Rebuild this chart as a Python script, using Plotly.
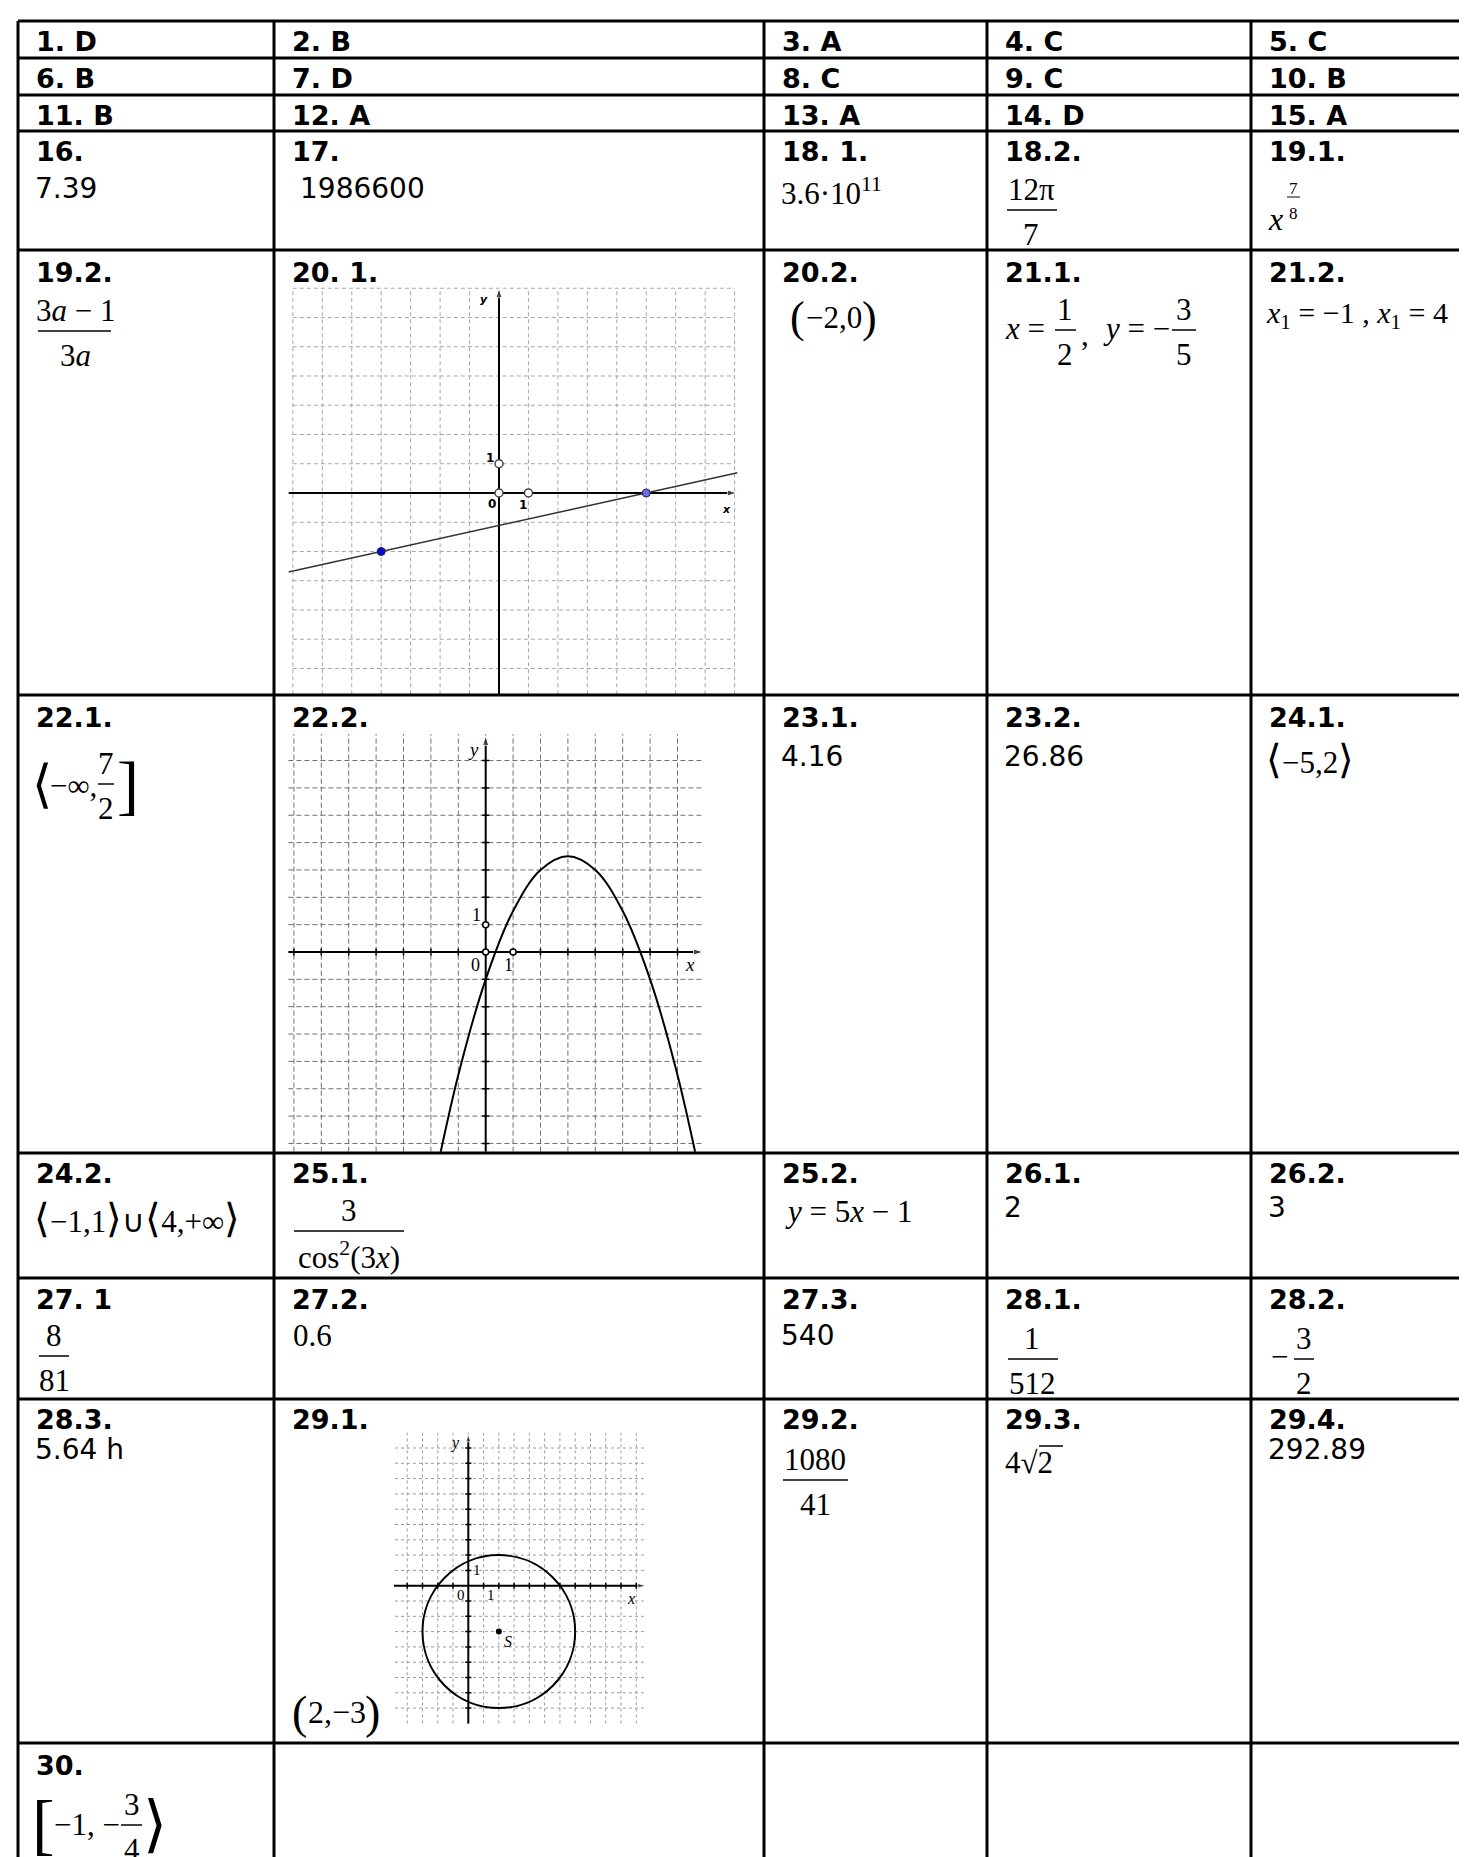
import plotly.graph_objects as go

W, H = 1467, 1857
SANS = "DejaVu Sans"
SERIF = "Liberation Serif"

# ---------------- contents of the answer sheet ----------------
labels = [
    ["1. D", "2. B", "3. A", "4. C", "5. C"],
    ["6. B", "7. D", "8. C", "9. C", "10. B"],
    ["11. B", "12. A", "13. A", "14. D", "15. A"],
    ["16.", "17.", "18. 1.", "18.2.", "19.1."],
    ["19.2.", "20. 1.", "20.2.", "21.1.", "21.2."],
    ["22.1.", "22.2.", "23.1.", "23.2.", "24.1."],
    ["24.2.", "25.1.", "25.2.", "26.1.", "26.2."],
    ["27. 1", "27.2.", "27.3.", "28.1.", "28.2."],
    ["28.3.", "29.1.", "29.2.", "29.3.", "29.4."],
    ["30.", "", "", "", ""],
]

# plain numeric answers (row, column, text)
plain_rows = [3, 3, 5, 5, 6, 6, 7, 8, 8]
plain_cols = [0, 1, 2, 3, 3, 4, 2, 0, 4]
plain_text = ["7.39", "1986600", "4.16", "26.86", "2", "3", "540", "5.64 h", "292.89"]

# 20.1 : line through the two marked points
line_x = [-7.15, -4, 5, 8.1]
line_y = [-2.7, -2, 0, 0.69]
marked_x = [-4, 5]
marked_y = [-2, 0]
marked_col = ["#0a0ac8", "#6e6ee6"]
unit_x = [0, 1, 0]
unit_y = [0, 0, 1]

# 22.2 : parabola
parab_x = [-2, -1, 0, 1, 2, 3, 4, 5, 6, 7, 8]
parab_y = [-9, -4.5, -1, 1.5, 3, 3.5, 3, 1.5, -1, -4.5, -9]

# 29.1 : circle with centre S
centre_x, centre_y = 2, -3
radius = 5

# ---------------- layout (pixels) ----------------
col_edges = [10, 266, 756, 979, 1243]
row_edges = [13, 50, 87, 123, 242, 687, 1145, 1270, 1391, 1735]
label_base = [43, 80, 117, 153, 274, 719, 1175, 1301, 1421, 1767]
plain_mid = {3: 180, 5: 748, 6: 1199, 7: 1327, 8: 1441}

# graph panels: origin pixel, pixels per unit, visible ranges
graphs = {
    "2": dict(ox=491, oy=485, ux=29.45, uy=29.25, xr=[-7.15, 8.1], yr=[-6.88, 7.05]),
    "3": dict(ox=477.7, oy=944, ux=27.4, uy=27.35, xr=[-7.25, 7.95], yr=[-7.3, 8.0]),
    "4": dict(ox=460.3, oy=1577.7, ux=15.27, uy=15.3, xr=[-4.9, 11.7], yr=[-9.05, 10.05]),
}

fig = go.Figure()
fig.add_trace(go.Scatter(x=[0], y=[0], mode="markers", marker=dict(opacity=0), hoverinfo="skip"))


def put(x, y, s, size, family=SERIF, xanchor="left", ref="", color="black"):
    fig.add_annotation(x=x, y=y, text=s, showarrow=False, xanchor=xanchor, yanchor="middle",
                       xref="x" + ref, yref="y" + ref,
                       font=dict(family=family, size=size, color=color))


def bar(x0, x1, y, w=1.5):
    fig.add_shape(type="line", x0=x0, x1=x1, y0=y, y1=y, xref="x", yref="y",
                  line=dict(color="black", width=w))


def frac(cx, ybar, x0, x1, num, den, size=31):
    put(cx, ybar - 21, num, size, xanchor="center")
    bar(x0, x1, ybar)
    put(cx, ybar + 24, den, size, xanchor="center")


# table frame
for y in row_edges:
    fig.add_shape(type="line", x0=col_edges[0], x1=W + 5, y0=y, y1=y, xref="x", yref="y",
                  line=dict(color="black", width=3))
for x in col_edges:
    fig.add_shape(type="line", x0=x, x1=x, y0=row_edges[0], y1=H + 5, xref="x", yref="y",
                  line=dict(color="black", width=3))

# cell labels
for r, row in enumerate(labels):
    for c, lab in enumerate(row):
        if lab:
            put(col_edges[c] + 16, label_base[r] - 9.5, "<b>" + lab + "</b>", 27, SANS)

# plain answers
for r, c, s in zip(plain_rows, plain_cols, plain_text):
    x = col_edges[c] + 15 + (9 if s == "1986600" else 0)
    put(x, plain_mid[r], s, 28, SANS)

BIG = "<span style='font-size:40px'>%s</span>"

# ---- row 16-19.1
put(771, 183, "3.6·10<sup>11</sup>", 31)
frac(1023, 202, 999, 1049, "12π", "7")
put(1258, 211, "<i>x</i>", 32)
put(1285, 180, "7", 17, xanchor="center")
bar(1279, 1292, 189, 1)
put(1285, 205, "8", 17, xanchor="center")

# ---- row 19.2-21.2
frac(67, 323, 30, 103, "3<i>a</i> − 1", "3<i>a</i>")
put(780, 309, "(", 44)
put(796, 309, "−2,0", 31)
put(852, 309, ")", 44)
put(995, 320, "<i>x</i> =", 31)
frac(1057, 322, 1047, 1068, "1", "2")
put(1071, 326, ",", 31)
put(1093, 320, "<i>y</i> = −", 31)
frac(1176, 322, 1164, 1188, "3", "5")
put(1256, 307, "<i>x</i><sub>1</sub> = −1 , <i>x</i><sub>1</sub> = 4", 30)

# ---- row 22.1-24.1
put(22, 776, "⟨", 52)
put(40, 777, "−∞,", 31)
frac(98, 776, 90, 106, "7", "2")
put(107, 776, "]", 66)
put(1256, 751, BIG % "⟨" + "−5,2" + BIG % "⟩", 31)

# ---- row 24.2-26.2
put(24, 1210, BIG % "⟨" + "−1,1" + BIG % "⟩" + "∪" + BIG % "⟨" + "4,+∞" + BIG % "⟩", 31)
frac(341, 1223, 286, 396, "3", "cos<sup>2</sup>(3<i>x</i>)")
put(775, 1203, "<i>y</i> = 5<i>x</i> − 1", 31)

# ---- row 27.1-28.2
frac(46, 1348, 31, 61, "8", "81")
put(283, 1327, "0.6", 31)
frac(1024, 1351, 1000, 1050, "1", "512")
put(1261, 1348, "−", 31)
frac(1296, 1351, 1286, 1306, "3", "2")

# ---- row 28.3-29.4
put(282, 1704, "(", 46)
put(298, 1704, "2,−3", 32)
put(355, 1704, ")", 46)
frac(807, 1472, 775, 840, "1080", "41")
put(995, 1454, "4√2", 31)
bar(1031, 1055, 1438, 1.5)

# ---- row 30
put(22, 1816, "[", 68)
put(44, 1816, "−1, −", 31)
frac(124, 1817, 113, 134, "3", "4")
put(133, 1816, "⟩", 62)


# ---------------- graph panels ----------------
def grid(ref, xs, ys, vspan, hspan, color, dash):
    gx, gy = [], []
    for v in xs:
        gx += [v, v, None]
        gy += [vspan[0], vspan[1], None]
    for h in ys:
        gx += [hspan[0], hspan[1], None]
        gy += [h, h, None]
    fig.add_trace(go.Scatter(x=gx, y=gy, mode="lines", hoverinfo="skip",
                             line=dict(color=color, width=1, dash=dash),
                             xaxis="x" + ref, yaxis="y" + ref))


def ticks(ref, xs, ys, half):
    gx, gy = [], []
    for v in xs:
        if v:
            gx += [v, v, None]
            gy += [-half, half, None]
    for h in ys:
        if h:
            gx += [-half, half, None]
            gy += [h, h, None]
    fig.add_trace(go.Scatter(x=gx, y=gy, mode="lines", hoverinfo="skip",
                             line=dict(color="black", width=1.5),
                             xaxis="x" + ref, yaxis="y" + ref))


def axis_arrow(ref, x0, y0, x1, y1, head=10):
    fig.add_trace(go.Scatter(x=[x0, x1], y=[y0, y1], mode="lines+markers", hoverinfo="skip",
                             line=dict(color="black", width=2),
                             marker=dict(symbol="arrow", size=[0, head], angleref="previous",
                                         color="black"),
                             xaxis="x" + ref, yaxis="y" + ref))


# 20.1
grid("2", range(-7, 9), range(-6, 8), [-6.88, 7], [-7, 8], "#a6a6a6", "4px,3px")
axis_arrow("2", -7.15, 0, 8.08, 0)
axis_arrow("2", 0, -6.88, 0, 7.0)
fig.add_trace(go.Scatter(x=line_x, y=line_y, mode="lines", line=dict(color="#333333", width=1.5),
                         xaxis="x2", yaxis="y2", hoverinfo="skip"))
fig.add_trace(go.Scatter(x=unit_x, y=unit_y, mode="markers", xaxis="x2", yaxis="y2",
                         marker=dict(size=8, color="white", line=dict(color="#444444", width=1.5))))
fig.add_trace(go.Scatter(x=marked_x, y=marked_y, mode="markers", xaxis="x2", yaxis="y2",
                         marker=dict(size=8, color=marked_col, line=dict(color="#202060", width=1))))
put(-0.24, -0.36, "<b>0</b>", 12, SANS, "center", "2")
put(0.81, -0.4, "<b>1</b>", 12, SANS, "center", "2")
put(-0.29, 1.2, "<b>1</b>", 12, SANS, "center", "2")
put(-0.5, 6.6, "<b><i>y</i></b>", 11, SANS, "center", "2")
put(7.74, -0.55, "<b><i>x</i></b>", 11, SANS, "center", "2")

# 22.2
grid("3", range(-7, 8), range(-7, 8), [-7.3, 7.97], [-7.2, 7.9], "#6e6e6e", "5px,3px")
ticks("3", range(-7, 8), range(-7, 8), 0.13)
axis_arrow("3", -7.2, 0, 7.93, 0)
axis_arrow("3", 0, -7.3, 0, 7.9)
fig.add_trace(go.Scatter(x=parab_x, y=parab_y, mode="lines", line=dict(color="black", width=2,
                         shape="spline", smoothing=1.0), xaxis="x3", yaxis="y3", hoverinfo="skip"))
fig.add_trace(go.Scatter(x=unit_x, y=unit_y, mode="markers", xaxis="x3", yaxis="y3",
                         marker=dict(size=6, color="white", line=dict(color="black", width=1.5))))
put(-0.39, -0.46, "0", 18, SERIF, "center", "3")
put(0.83, -0.46, "1", 18, SERIF, "center", "3")
put(-0.34, 1.37, "1", 18, SERIF, "center", "3")
put(-0.45, 7.4, "<i>y</i>", 19, SERIF, "center", "3")
put(7.44, -0.45, "<i>x</i>", 19, SERIF, "center", "3")

# 29.1
grid("4", range(-4, 12), range(-8, 10), [-9, 10], [-4.8, 11.5], "#9a9a9a", "3px,3px")
ticks("4", range(-4, 12), range(-8, 10), 0.2)
axis_arrow("4", -4.87, 0, 11.6, 0, 8)
axis_arrow("4", 0, -9, 0, 9.9, 8)
fig.add_shape(type="circle", xref="x4", yref="y4",
              x0=centre_x - radius, x1=centre_x + radius,
              y0=centre_y - radius, y1=centre_y + radius,
              line=dict(color="black", width=2))
fig.add_trace(go.Scatter(x=[centre_x], y=[centre_y], mode="markers", xaxis="x4", yaxis="y4",
                         marker=dict(size=6, color="black")))
put(2.62, -3.65, "<i>S</i>", 16, SERIF, "center", "4")
put(-0.87, 9.34, "<i>y</i>", 16, SERIF, "center", "4")
put(10.63, -0.85, "<i>x</i>", 16, SERIF, "center", "4")
put(-0.5, -0.63, "0", 15, SERIF, "center", "4")
put(1.46, -0.63, "1", 15, SERIF, "center", "4")
put(0.59, 1.05, "1", 15, SERIF, "center", "4")

# ---------------- axes / figure ----------------
layout_axes = dict(
    xaxis=dict(range=[0, W], domain=[0, 1], visible=False, fixedrange=True),
    yaxis=dict(range=[H, 0], domain=[0, 1], visible=False, fixedrange=True),
)
for k, g in graphs.items():
    px0 = g["ox"] + g["xr"][0] * g["ux"]
    px1 = g["ox"] + g["xr"][1] * g["ux"]
    py_top = g["oy"] - g["yr"][1] * g["uy"]
    py_bot = g["oy"] - g["yr"][0] * g["uy"]
    layout_axes["xaxis" + k] = dict(range=g["xr"], domain=[px0 / W, px1 / W], anchor="y" + k,
                                    visible=False, fixedrange=True)
    layout_axes["yaxis" + k] = dict(range=g["yr"], domain=[1 - py_bot / H, 1 - py_top / H],
                                    anchor="x" + k, visible=False, fixedrange=True)

fig.update_layout(width=W, height=H, autosize=False, showlegend=False,
                  margin=dict(l=0, r=0, t=0, b=0),
                  paper_bgcolor="white", plot_bgcolor="white", **layout_axes)

fig.write_html("out.html")
